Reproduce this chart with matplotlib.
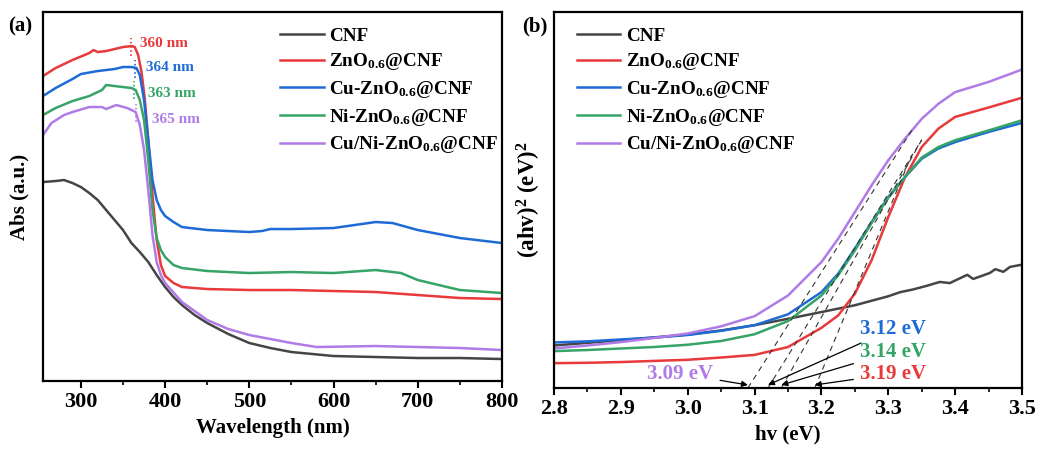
import numpy as np
import matplotlib
matplotlib.use('Agg')
import matplotlib.pyplot as plt
from matplotlib.ticker import MultipleLocator

plt.rcParams['font.family'] = ['Liberation Serif', 'DejaVu Serif']
plt.rcParams['font.weight'] = 'bold'
plt.rcParams['axes.labelweight'] = 'bold'
plt.rcParams['mathtext.fontset'] = 'custom'
plt.rcParams['mathtext.rm'] = 'Liberation Serif:bold'
plt.rcParams['mathtext.it'] = 'Liberation Serif:bold:italic'
plt.rcParams['mathtext.bf'] = 'Liberation Serif:bold'
plt.rcParams['mathtext.default'] = 'rm'

names = ['CNF', 'ZnO$_{0.6}$@CNF', 'Cu-ZnO$_{0.6}$@CNF', 'Ni-ZnO$_{0.6}$@CNF', 'Cu/Ni-ZnO$_{0.6}$@CNF']
colors = ['#454545', '#E8393B', '#1F6BD6', '#35A466', '#B07BE6']

# (a) UV-vis absorbance
wl_cnf = [255, 270, 280, 290, 300, 310, 320, 330, 340, 350, 360, 370, 380, 390, 400, 410, 420, 435,
          450, 475, 500, 525, 550, 575, 600, 650, 700, 750, 800]
abs_cnf = [1.99, 2.00, 2.01, 1.98, 1.94, 1.88, 1.81, 1.71, 1.61, 1.51, 1.38, 1.29, 1.19, 1.06, 0.94,
           0.84, 0.76, 0.66, 0.58, 0.47, 0.38, 0.33, 0.29, 0.27, 0.25, 0.24, 0.23, 0.23, 0.22]

wl_zno = [255, 270, 290, 310, 315, 320, 330, 340, 350, 360, 364, 368, 372, 376, 380, 385, 390, 395,
          400, 410, 420, 450, 500, 550, 600, 650, 700, 750, 800]
abs_zno = [3.05, 3.13, 3.21, 3.28, 3.31, 3.29, 3.30, 3.32, 3.34, 3.35, 3.34, 3.26, 3.09, 2.81, 2.41,
           1.86, 1.41, 1.16, 1.05, 0.98, 0.94, 0.92, 0.91, 0.91, 0.90, 0.89, 0.86, 0.83, 0.82]

wl_cu = [255, 270, 290, 300, 320, 340, 350, 360, 366, 370, 375, 380, 385, 390, 395, 400, 410, 420,
         450, 500, 515, 525, 550, 600, 625, 650, 670, 700, 750, 800]
abs_cu = [2.85, 2.93, 3.02, 3.07, 3.10, 3.12, 3.14, 3.14, 3.13, 3.06, 2.81, 2.41, 2.01, 1.81, 1.71,
          1.65, 1.59, 1.54, 1.51, 1.49, 1.50, 1.52, 1.52, 1.53, 1.56, 1.59, 1.58, 1.51, 1.43, 1.38]

wl_ni = [255, 270, 290, 310, 325, 330, 340, 350, 360, 365, 370, 375, 380, 385, 390, 395, 400, 410,
         420, 450, 500, 550, 600, 650, 680, 700, 750, 800]
abs_ni = [2.66, 2.73, 2.80, 2.85, 2.91, 2.96, 2.95, 2.94, 2.93, 2.91, 2.81, 2.61, 2.21, 1.71, 1.43,
          1.31, 1.24, 1.16, 1.13, 1.10, 1.08, 1.09, 1.08, 1.11, 1.08, 1.01, 0.91, 0.88]

wl_cuni = [255, 265, 280, 290, 310, 325, 330, 342, 355, 365, 370, 375, 380, 385, 390, 395, 400, 420,
           450, 475, 500, 550, 580, 650, 700, 750, 800]
abs_cuni = [2.46, 2.58, 2.66, 2.69, 2.74, 2.74, 2.72, 2.76, 2.73, 2.69, 2.56, 2.31, 1.91, 1.46, 1.19,
            1.06, 0.98, 0.79, 0.61, 0.52, 0.46, 0.38, 0.34, 0.35, 0.34, 0.33, 0.31]

edge_wl = [360, 364, 363, 365]
edge_text_xy = [(370, 3.38), (377, 3.14), (380, 2.88), (384, 2.62)]

# (b) Tauc plot
hv = [2.8, 2.85, 2.9, 2.95, 3.0, 3.05, 3.1, 3.15, 3.2, 3.225, 3.25, 3.275, 3.3, 3.325, 3.35, 3.375,
      3.4, 3.45, 3.5]
tauc_zno = [0.066, 0.067, 0.069, 0.072, 0.075, 0.081, 0.088, 0.109, 0.160, 0.193, 0.251, 0.340, 0.455,
            0.561, 0.641, 0.690, 0.721, 0.746, 0.772]
tauc_cu = [0.121, 0.124, 0.129, 0.134, 0.141, 0.152, 0.167, 0.196, 0.255, 0.304, 0.371, 0.441, 0.508,
           0.561, 0.610, 0.637, 0.654, 0.681, 0.705]
tauc_ni = [0.098, 0.101, 0.105, 0.109, 0.115, 0.125, 0.143, 0.178, 0.246, 0.300, 0.366, 0.439, 0.506,
           0.561, 0.613, 0.641, 0.659, 0.685, 0.712]
tauc_cuni = [0.105, 0.113, 0.122, 0.133, 0.145, 0.164, 0.191, 0.246, 0.335, 0.397, 0.468, 0.539, 0.606,
             0.663, 0.716, 0.756, 0.787, 0.814, 0.847]

hv_cnf = [2.8, 2.9, 3.0, 3.05, 3.1, 3.15, 3.2, 3.25, 3.3, 3.318, 3.337, 3.358, 3.377, 3.392, 3.418,
          3.427, 3.452, 3.46, 3.472, 3.482, 3.497, 3.5]
tauc_cnf = [0.113, 0.127, 0.142, 0.153, 0.167, 0.184, 0.202, 0.220, 0.244, 0.255, 0.262, 0.272, 0.282,
            0.279, 0.301, 0.290, 0.306, 0.316, 0.309, 0.322, 0.327, 0.328]

# band gaps (ZnO, Cu, Ni, Cu/Ni) and the upper end of each tangent
band_gap = [3.19, 3.12, 3.14, 3.09]
tangent_end = [(3.335, 0.62), (3.35, 0.66), (3.35, 0.66), (3.335, 0.685)]
gap_text_xy = [(3.258, 0.038), (3.258, 0.158), (3.258, 0.096), (3.038, 0.038)]
gap_text_ha = ['left', 'left', 'left', 'right']

fig = plt.figure(figsize=(10.41, 4.49), dpi=100)
ax1 = fig.add_axes([0.0413, 0.1514, 0.4409, 0.8218])
ax2 = fig.add_axes([0.5322, 0.1359, 0.4496, 0.8374])

curves_a = [(wl_cnf, abs_cnf), (wl_zno, abs_zno), (wl_cu, abs_cu), (wl_ni, abs_ni), (wl_cuni, abs_cuni)]
for (x, y), c, n in zip(curves_a, colors, names):
    ax1.plot(x, y, color=c, lw=1.8, label=n)

for i, w in enumerate(edge_wl):
    x, y = curves_a[i + 1]
    yc = np.interp(w, x, y)
    ax1.plot([w, w], [yc - 0.1, yc + 0.08], ls=(0, (1, 1.5)), color=colors[i + 1], lw=1.2)
    tx, ty = edge_text_xy[i]
    ax1.text(tx, ty, f'{w} nm', color=colors[i + 1], fontsize=11, ha='left', va='center')

leg_kw = dict(frameon=False, fontsize=13.8, handlelength=2.25, handletextpad=0.3,
              labelspacing=0.35, borderaxespad=0.2)

ax1.set_xlim(255, 800)
ax1.set_ylim(0, 3.69)
ax1.xaxis.set_major_locator(MultipleLocator(100))
ax1.xaxis.set_minor_locator(MultipleLocator(50))
ax1.set_yticks([])
ax1.set_xlabel('Wavelength (nm)', fontsize=15)
ax1.set_ylabel('Abs (a.u.)', fontsize=15)
ax1.xaxis.set_label_coords(0.5, -0.10)
ax1.yaxis.set_label_coords(-0.029, 0.5)
ax1.legend(loc='upper right', bbox_to_anchor=(1.017, 0.99), **leg_kw)

curves_b = [(hv_cnf, tauc_cnf), (hv, tauc_zno), (hv, tauc_cu), (hv, tauc_ni), (hv, tauc_cuni)]
for (x, y), c, n in zip(curves_b, colors, names):
    ax2.plot(x, y, color=c, lw=1.8, label=n)

for i, eg in enumerate(band_gap):
    xe, ye = tangent_end[i]
    ax2.plot([eg, xe], [0, ye], ls=(0, (5, 4)), color='#333333', lw=0.8)
    ax2.annotate(f'{eg:.2f} eV', xy=(eg, 0.008), xytext=gap_text_xy[i], color=colors[i + 1],
                 fontsize=15, ha=gap_text_ha[i], va='center',
                 arrowprops=dict(arrowstyle='-|>', color='black', lw=0.9, shrinkA=3, shrinkB=0,
                                 mutation_scale=9))

ax2.set_xlim(2.8, 3.5)
ax2.set_ylim(0, 1.0)
ax2.xaxis.set_major_locator(MultipleLocator(0.1))
ax2.xaxis.set_minor_locator(MultipleLocator(0.05))
ax2.xaxis.set_major_formatter(plt.FormatStrFormatter('%.1f'))
ax2.set_yticks([])
ax2.set_xlabel('hv (eV)', fontsize=15)
ax2.set_ylabel('(ahv)$^{2}$ (eV)$^{2}$', fontsize=16.5)
ax2.xaxis.set_label_coords(0.5, -0.096)
ax2.yaxis.set_label_coords(-0.024, 0.5)
ax2.legend(loc='upper left', bbox_to_anchor=(0.024, 0.99), **leg_kw)

for ax in (ax1, ax2):
    for s in ax.spines.values():
        s.set_linewidth(1.6)
    ax.tick_params(axis='x', which='major', direction='out', length=5, width=1.5, labelsize=16, pad=3)
    ax.tick_params(axis='x', which='minor', direction='out', length=3, width=1.2)
    for lab in ax.get_xticklabels():
        lab.set_fontweight('bold')

fig.text(0.0077, 0.94, '(a)', fontsize=15, va='center', ha='left')
fig.text(0.502, 0.94, '(b)', fontsize=15, va='center', ha='left')

fig.savefig('out.png', dpi=100)
